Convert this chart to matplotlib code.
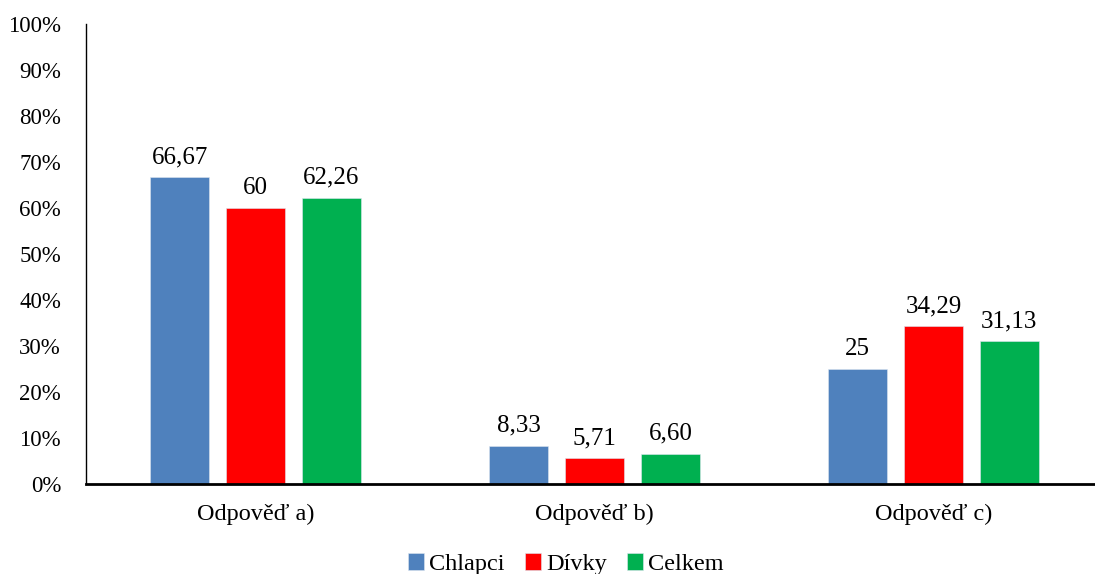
import numpy as np
import matplotlib
matplotlib.use("Agg")
import matplotlib.pyplot as plt
from matplotlib.ticker import FuncFormatter

plt.rcParams['font.family'] = ['Liberation Serif', 'DejaVu Serif']

categories = ['Odpověď a)', 'Odpověď b)', 'Odpověď c)']
series_names = ['Chlapci', 'Dívky', 'Celkem']
colors = ['#4F81BD', '#FF0000', '#00B050']
values = {
    'Chlapci': [66.67, 8.33, 25.0],
    'Dívky': [60.0, 5.71, 34.29],
    'Celkem': [62.26, 6.60, 31.13],
}
labels = {
    'Chlapci': ['66,67', '8,33', '25'],
    'Dívky': ['60', '5,71', '34,29'],
    'Celkem': ['62,26', '6,60', '31,13'],
}

fig = plt.figure(figsize=(10.95, 5.74), dpi=100)
# axes runs a bit past the right edge, as in the original
ax = fig.add_axes([86 / 1095, 1 - 484 / 574, (1103 - 86) / 1095, (484 - 24) / 574])

x = np.arange(len(categories))
bar_w = 0.174
step = 0.224
for i, name in enumerate(series_names):
    pos = x + (i - 1) * step
    bars = ax.bar(pos, values[name], width=bar_w, color=colors[i], label=name,
                  edgecolor='#dde6f0', linewidth=0.4, zorder=2)
    for b, txt in zip(bars, labels[name]):
        ax.text(b.get_x() + b.get_width() / 2, b.get_height() + 1.9, txt,
                ha='center', va='bottom', fontsize=18)

ax.set_xlim(-0.5, 2.5)
ax.set_ylim(0, 100)
ax.set_yticks(np.arange(0, 101, 10))
ax.yaxis.set_major_formatter(FuncFormatter(lambda v, p: f'{v:.0f}%'))
ax.set_xticks(x)
ax.set_xticklabels(categories)
ax.tick_params(axis='both', length=0)
ax.tick_params(axis='y', labelsize=16.5, pad=18)
ax.tick_params(axis='x', labelsize=17.5, pad=14)

ax.spines['top'].set_visible(False)
ax.spines['right'].set_visible(False)
ax.spines['left'].set_linewidth(1.0)
ax.spines['bottom'].set_linewidth(2.0)

fig.legend(loc='lower center', bbox_to_anchor=(566 / 1095, -0.04), ncol=3,
           frameon=False, fontsize=17.5, handlelength=0.65, handleheight=0.65,
           handletextpad=0.2, columnspacing=0.85)

fig.savefig('out.png', dpi=100)
